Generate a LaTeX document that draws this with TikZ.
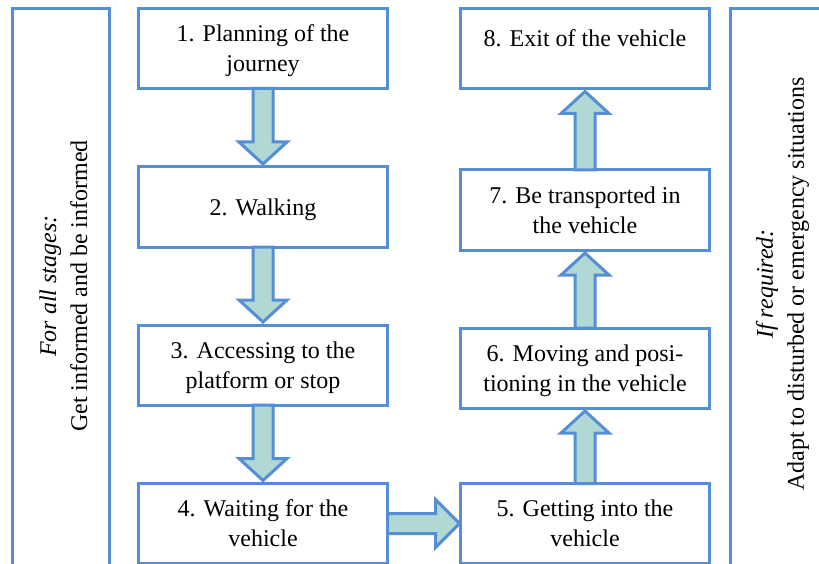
\documentclass[tikz,border=0pt]{standalone}
\usepackage{fontspec}
\setmainfont{LiberationSerif}[Extension=.ttf, UprightFont=*-Regular, ItalicFont=*-Italic, BoldFont=*-Bold, BoldItalicFont=*-BoldItalic]
\usetikzlibrary{calc}
\definecolor{bblue}{RGB}{85,142,213}
\definecolor{bteal}{RGB}{176,217,213}
\newcommand\flowdown[2]{%
  \draw[barrow] ($(#1.south)+(-10,0)$) -- ($(#2.north)+(-10,-25)$) -- ($(#2.north)+(-24,-25)$) -- ($(#2.north)+(0,-3)$) -- ($(#2.north)+(24,-25)$) -- ($(#2.north)+(10,-25)$) -- ($(#1.south)+(10,0)$) -- cycle;}
\newcommand\flowup[2]{%
  \draw[barrow] ($(#1.north)+(-10,0)$) -- ($(#2.south)+(-10,25)$) -- ($(#2.south)+(-24,25)$) -- ($(#2.south)+(0,3)$) -- ($(#2.south)+(24,25)$) -- ($(#2.south)+(10,25)$) -- ($(#1.north)+(10,0)$) -- cycle;}
\newcommand\flowright[2]{%
  \draw[barrow] ($(#1.east)+(0,-10)$) -- ($(#2.west)+(-25,-10)$) -- ($(#2.west)+(-25,-24)$) -- ($(#2.west)+(-1,0)$) -- ($(#2.west)+(-25,24)$) -- ($(#2.west)+(-25,10)$) -- ($(#1.east)+(0,10)$) -- cycle;}
\begin{document}
\begin{tikzpicture}[x=1pt,y=-1pt,
  stepbox/.style={draw=bblue, line width=3pt, fill=white, minimum width=249pt, minimum height=80pt, outer sep=0pt, inner sep=0pt, align=center, text depth=0pt, font=\fontsize{24}{30}\selectfont},
  barrow/.style={draw=bblue, fill=bteal, line width=3pt, line join=miter},
  panel/.style={draw=bblue, line width=3pt, outer sep=0pt, inner sep=0pt, anchor=north west},
  ptext/.style={rotate=90, align=center, font=\fontsize{24}{31}\selectfont}]
\clip (0,0) rectangle (819,564);
\fill[white] (0,0) rectangle (819,564);
% side panels
\node[panel, minimum width=97pt, minimum height=640pt] (lp) at (12.5,8.5) {};
\node[panel, minimum width=100pt, minimum height=640pt] (rp) at (730.5,8.5) {};
\node[ptext] (lt) at (63.5,286) {\textit{For all stages:}\\Get informed and be informed};
\node[ptext] (rt) at (782.5,284) {\textit{If required:}\\Adapt to disturbed or emergency situations};
% steps
\node[stepbox] (b1) at (263,48.5) {1. Planning of the\\journey};
\node[stepbox] (b2) at (263,207) {2. Walking};
\node[stepbox] (b3) at (263,365) {3. Accessing to the\\platform or stop};
\node[stepbox] (b4) at (263,523.5) {4. Waiting for the\\vehicle};
\node[stepbox] (b5) at (585,523.5) {5. Getting into the\\vehicle};
\node[stepbox] (b6) at (585,368) {6. Moving and posi-\\tioning in the vehicle};
\node[stepbox] (b7) at (585,210) {7. Be transported in\\the vehicle};
\node[stepbox] (b8) at (585,48.5) {};
\node[font=\fontsize{24}{30}\selectfont] (t8) at ($(b8.center)+(0,-10)$) {8. Exit of the vehicle};
% arrows
\flowdown{b1}{b2}
\flowdown{b2}{b3}
\flowdown{b3}{b4}
\flowright{b4}{b5}
\flowup{b5}{b6}
\flowup{b6}{b7}
\flowup{b7}{b8}
\end{tikzpicture}
\end{document}
